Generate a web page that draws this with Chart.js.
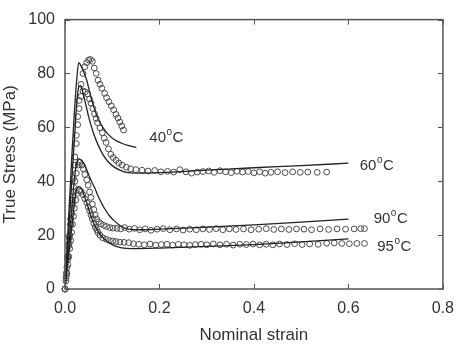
<!DOCTYPE html>
<html>
<head>
<meta charset="utf-8">
<script src="https://cdn.jsdelivr.net/npm/chart.js@4/dist/chart.umd.min.js"></script>
<style>
  html, body { margin: 0; padding: 0; background: #fff; }
</style>
</head>
<body>
<canvas id="grafica" width="464" height="344"></canvas>
<script>
// Ticks
const xTickLabels = ['0.0', '0.2', '0.4', '0.6', '0.8'];
const yTickLabels = ['0', '20', '40', '60', '80', '100'];

// Experimental (circles) [strain, stress]
const exp40 = [[0,0],[0.003,6],[0.006,12],[0.009,19],[0.012,26],[0.015,33],[0.018,41],[0.021,49],[0.024,57],[0.027,64],[0.030,70],[0.034,76],[0.038,80],[0.042,82.5],[0.046,84],[0.050,85],[0.054,85.2],[0.058,84.5],[0.062,82],[0.066,80],[0.070,77.5],[0.074,76],[0.078,74.5],[0.084,72.6],[0.088,71],[0.093,69.5],[0.098,68],[0.103,66.5],[0.108,64.8],[0.112,63.5],[0.116,62],[0.120,60.5],[0.124,59]];
const exp60 = [[0,0],[0.003,5],[0.006,11],[0.009,17],[0.012,24],[0.015,31],[0.018,38],[0.021,46],[0.024,54],[0.027,61],[0.030,67],[0.034,71.5],[0.038,73.5],[0.043,73.2],[0.048,72.4],[0.052,70.5],[0.055,69],[0.059,67],[0.0625,65],[0.066,63.3],[0.069,61.7],[0.074,59.8],[0.079,58],[0.083,56],[0.087,54.4],[0.092,52],[0.097,50],[0.102,48.8],[0.108,47.8],[0.114,46.8],[0.121,46],[0.130,45.2],[0.139,44.6],[0.150,44.3],[0.163,44.1],
  [0.176,43.8],[0.190,44.0],[0.203,43.5],[0.217,43.7],[0.230,43.4],[0.243,44.3],[0.256,43.5],[0.268,43.0],[0.280,43.4],[0.292,43.6],[0.304,43.8],[0.316,43.3],[0.328,43.9],[0.340,43.5],[0.352,43.2],[0.364,43.7],[0.376,43.4],[0.388,43.6],[0.400,43.1],[0.412,43.5],[0.424,43.0],[0.436,43.3],[0.450,43.5],[0.466,43.2],[0.482,43.5],[0.498,43.3],[0.514,43.4],[0.534,43.3],[0.554,43.4]];
const exp90 = [[0,0],[0.002,4],[0.004,8],[0.006,12],[0.008,16],[0.010,20],[0.012,24],[0.014,28],[0.016,32],[0.018,36],[0.021,40],[0.024,43],[0.028,46],[0.032,47],[0.036,46],[0.039,44.6],[0.042,42.5],[0.046,40.5],[0.049,38.5],[0.052,36],[0.055,34],[0.058,31.5],[0.061,29.5],[0.064,27.5],[0.067,26],[0.071,25],[0.076,24.2],[0.082,23.6],[0.088,23.2],[0.095,22.8],[0.102,22.6],[0.110,22.5],[0.118,22.3],
  [0.126,22.8],[0.136,22.2],[0.147,22.5],[0.158,22.0],[0.170,22.3],[0.182,21.8],[0.195,22.2],[0.208,22.4],[0.222,22.0],[0.236,22.3],[0.250,21.9],[0.264,22.2],[0.278,22.0],[0.292,22.3],[0.306,22.1],[0.320,22.4],[0.334,22.0],[0.348,22.3],[0.362,22.1],[0.378,22.3],[0.394,22.0],[0.410,22.2],[0.426,22.4],[0.442,22.1],[0.458,22.3],[0.474,22.1],[0.490,22.3],[0.506,22.2],[0.522,22.0],[0.540,22.3],[0.558,22.1],[0.576,22.3],[0.594,22.2],[0.612,22.3],[0.626,22.4],[0.634,22.4]];
const exp95 = [[0,0],[0.002,3],[0.004,6],[0.006,9],[0.008,12],[0.010,15],[0.012,18],[0.014,21],[0.016,24],[0.018,27],[0.020,30],[0.023,33],[0.026,35.5],[0.030,36.5],[0.034,36.2],[0.038,35],[0.042,33.5],[0.046,32],[0.049,30.5],[0.052,29],[0.055,27.5],[0.058,26],[0.061,24.3],[0.064,23],[0.067,22],[0.070,21],[0.074,20],[0.080,19],[0.087,18.5],[0.094,18],[0.101,17.8],[0.108,17.6],[0.116,17.4],[0.125,17.3],[0.135,17.2],
  [0.145,16.8],[0.156,16.6],[0.168,16.4],[0.180,16.7],[0.192,16.3],[0.204,16.5],[0.216,16.6],[0.228,16.3],[0.240,16.6],[0.252,16.4],[0.264,16.2],[0.276,16.5],[0.288,16.6],[0.300,16.4],[0.314,16.7],[0.328,16.4],[0.342,16.6],[0.356,16.3],[0.370,16.6],[0.384,16.5],[0.398,16.7],[0.412,16.4],[0.426,16.6],[0.440,16.4],[0.454,16.7],[0.470,16.5],[0.486,16.8],[0.502,16.5],[0.518,16.7],[0.536,16.6],[0.554,17.0],[0.570,17.1],[0.586,16.9],[0.602,16.8],[0.618,16.9],[0.634,16.9]];

// Model (lines) [strain, stress]
const model40 = [[0,0],[0.005,17],[0.010,34],[0.015,51],[0.020,66],[0.025,78],[0.029,84],[0.032,83.5],[0.036,82],[0.041,80],[0.046,77.5],[0.051,74],[0.056,70.5],[0.063,66.5],[0.070,63.2],[0.080,60],[0.091,57.5],[0.105,55.4],[0.119,54.2],[0.135,53.2],[0.151,52.5]];
const model60 = [[0,0],[0.005,14],[0.010,28],[0.015,42],[0.020,56],[0.025,69],[0.029,75],[0.033,75.5],[0.037,73.5],[0.042,70],[0.050,64],[0.060,58],[0.070,53.5],[0.080,50],[0.090,47.5],[0.100,45.8],[0.115,44.2],[0.130,43.3],[0.150,43.0],[0.200,43.2],[0.300,44.1],[0.400,45.0],[0.500,45.8],[0.600,46.7]];
const model90 = [[0,0],[0.005,10],[0.010,20],[0.015,31],[0.020,41],[0.025,47],[0.029,48.3],[0.033,48],[0.038,47],[0.042,45.9],[0.050,42.5],[0.056,40],[0.063,37.5],[0.070,34.5],[0.077,32],[0.084,29.8],[0.094,27.2],[0.105,25.2],[0.119,23.3],[0.135,22.2],[0.160,22.0],[0.200,22.2],[0.300,23.0],[0.400,23.8],[0.500,24.8],[0.600,25.9]];
const model95 = [[0,0],[0.005,8],[0.010,16],[0.015,24],[0.020,32],[0.024,36.5],[0.028,38],[0.032,37.8],[0.035,37.3],[0.040,35],[0.046,32],[0.056,26.4],[0.066,22.5],[0.077,19.7],[0.090,17.5],[0.105,16],[0.120,15.3],[0.140,15.0],[0.200,15.2],[0.300,15.8],[0.400,16.5],[0.500,17.5],[0.600,18.6]];

// Curve labels: text, strain, stress (left / baseline)
const curveLabels = [
  ['40', 0.1785, 54.6],
  ['60', 0.624, 44.0],
  ['90', 0.6535, 24.6],
  ['95', 0.661, 14.2]
];

const toXY = arr => arr.map(([x, y]) => ({ x, y }));

const lineStyle = { showLine: true, pointRadius: 0, borderColor: '#222', borderWidth: 1.3, cubicInterpolationMode: 'monotone', fill: false };
const dotStyle = { showLine: false, pointRadius: 2.9, pointBorderWidth: 1, pointBorderColor: '#4a4a4a', pointBackgroundColor: 'rgba(0,0,0,0)', clip: false };

// Marcos, ticks hacia dentro y etiquetas de temperatura
const marcoPlugin = {
  id: 'marco',
  afterDraw(chart) {
    const { ctx, chartArea: a, scales: { x, y } } = chart;
    ctx.save();
    ctx.strokeStyle = '#555';
    ctx.lineWidth = 1.5;
    ctx.strokeRect(a.left, a.top, a.right - a.left, a.bottom - a.top);
    ctx.lineWidth = 1;
    ctx.beginPath();
    x.ticks.forEach(t => {
      const px = Math.round(x.getPixelForValue(t.value)) + 0.5;
      ctx.moveTo(px, a.bottom); ctx.lineTo(px, a.bottom - 5);
      ctx.moveTo(px, a.top); ctx.lineTo(px, a.top + 5);
    });
    y.ticks.forEach(t => {
      const py = Math.round(y.getPixelForValue(t.value)) + 0.5;
      ctx.moveTo(a.left, py); ctx.lineTo(a.left + 5, py);
      ctx.moveTo(a.right, py); ctx.lineTo(a.right - 5, py);
    });
    ctx.stroke();

    ctx.fillStyle = '#333';
    ctx.textBaseline = 'alphabetic';
    curveLabels.forEach(([txt, sx, sy]) => {
      const px = x.getPixelForValue(sx);
      const py = y.getPixelForValue(sy);
      ctx.font = '15px "Liberation Sans", Arial, sans-serif';
      ctx.fillText(txt, px, py);
      const w = ctx.measureText(txt).width;
      ctx.font = '10px "Liberation Sans", Arial, sans-serif';
      ctx.fillText('o', px + w + 0.5, py - 7);
      const wo = ctx.measureText('o').width;
      ctx.font = '15px "Liberation Sans", Arial, sans-serif';
      ctx.fillText('C', px + w + wo + 1, py);
    });
    ctx.restore();
  }
};

const ctx = document.getElementById('grafica').getContext('2d');
new Chart(ctx, {
  type: 'scatter',
  data: {
    datasets: [
      { data: toXY(model40), ...lineStyle },
      { data: toXY(model60), ...lineStyle },
      { data: toXY(model90), ...lineStyle },
      { data: toXY(model95), ...lineStyle },
      { data: toXY(exp40), ...dotStyle },
      { data: toXY(exp60), ...dotStyle },
      { data: toXY(exp90), ...dotStyle },
      { data: toXY(exp95), ...dotStyle }
    ]
  },
  options: {
    responsive: false,
    animation: false,
    events: [],
    layout: { padding: { top: 15, right: 15, left: 0, bottom: 0 } },
    plugins: { legend: { display: false }, tooltip: { enabled: false } },
    scales: {
      x: {
        type: 'linear',
        min: 0, max: 0.8,
        grid: { display: false, drawTicks: false },
        border: { display: false },
        ticks: {
          stepSize: 0.2,
          padding: 10,
          color: '#333',
          font: { family: '"Liberation Sans", Arial, sans-serif', size: 16 },
          callback: v => xTickLabels[Math.round(v / 0.2)]
        },
        title: {
          display: true,
          text: 'Nominal strain',
          color: '#333',
          padding: 0,
          font: { family: '"Liberation Sans", Arial, sans-serif', size: 17, lineHeight: 1 }
        },
        afterFit: s => { s.height = 55; }
      },
      y: {
        type: 'linear',
        min: 0, max: 100,
        grid: { display: false, drawTicks: false },
        border: { display: false },
        ticks: {
          stepSize: 20,
          padding: 10,
          color: '#333',
          font: { family: '"Liberation Sans", Arial, sans-serif', size: 16 },
          callback: v => yTickLabels[Math.round(v / 20)]
        },
        title: {
          display: true,
          text: 'True Stress (MPa)',
          color: '#333',
          padding: 0,
          font: { family: '"Liberation Sans", Arial, sans-serif', size: 17 }
        },
        afterFit: s => { s.width = 65; }
      }
    }
  },
  plugins: [marcoPlugin]
});
</script>
</body>
</html>
